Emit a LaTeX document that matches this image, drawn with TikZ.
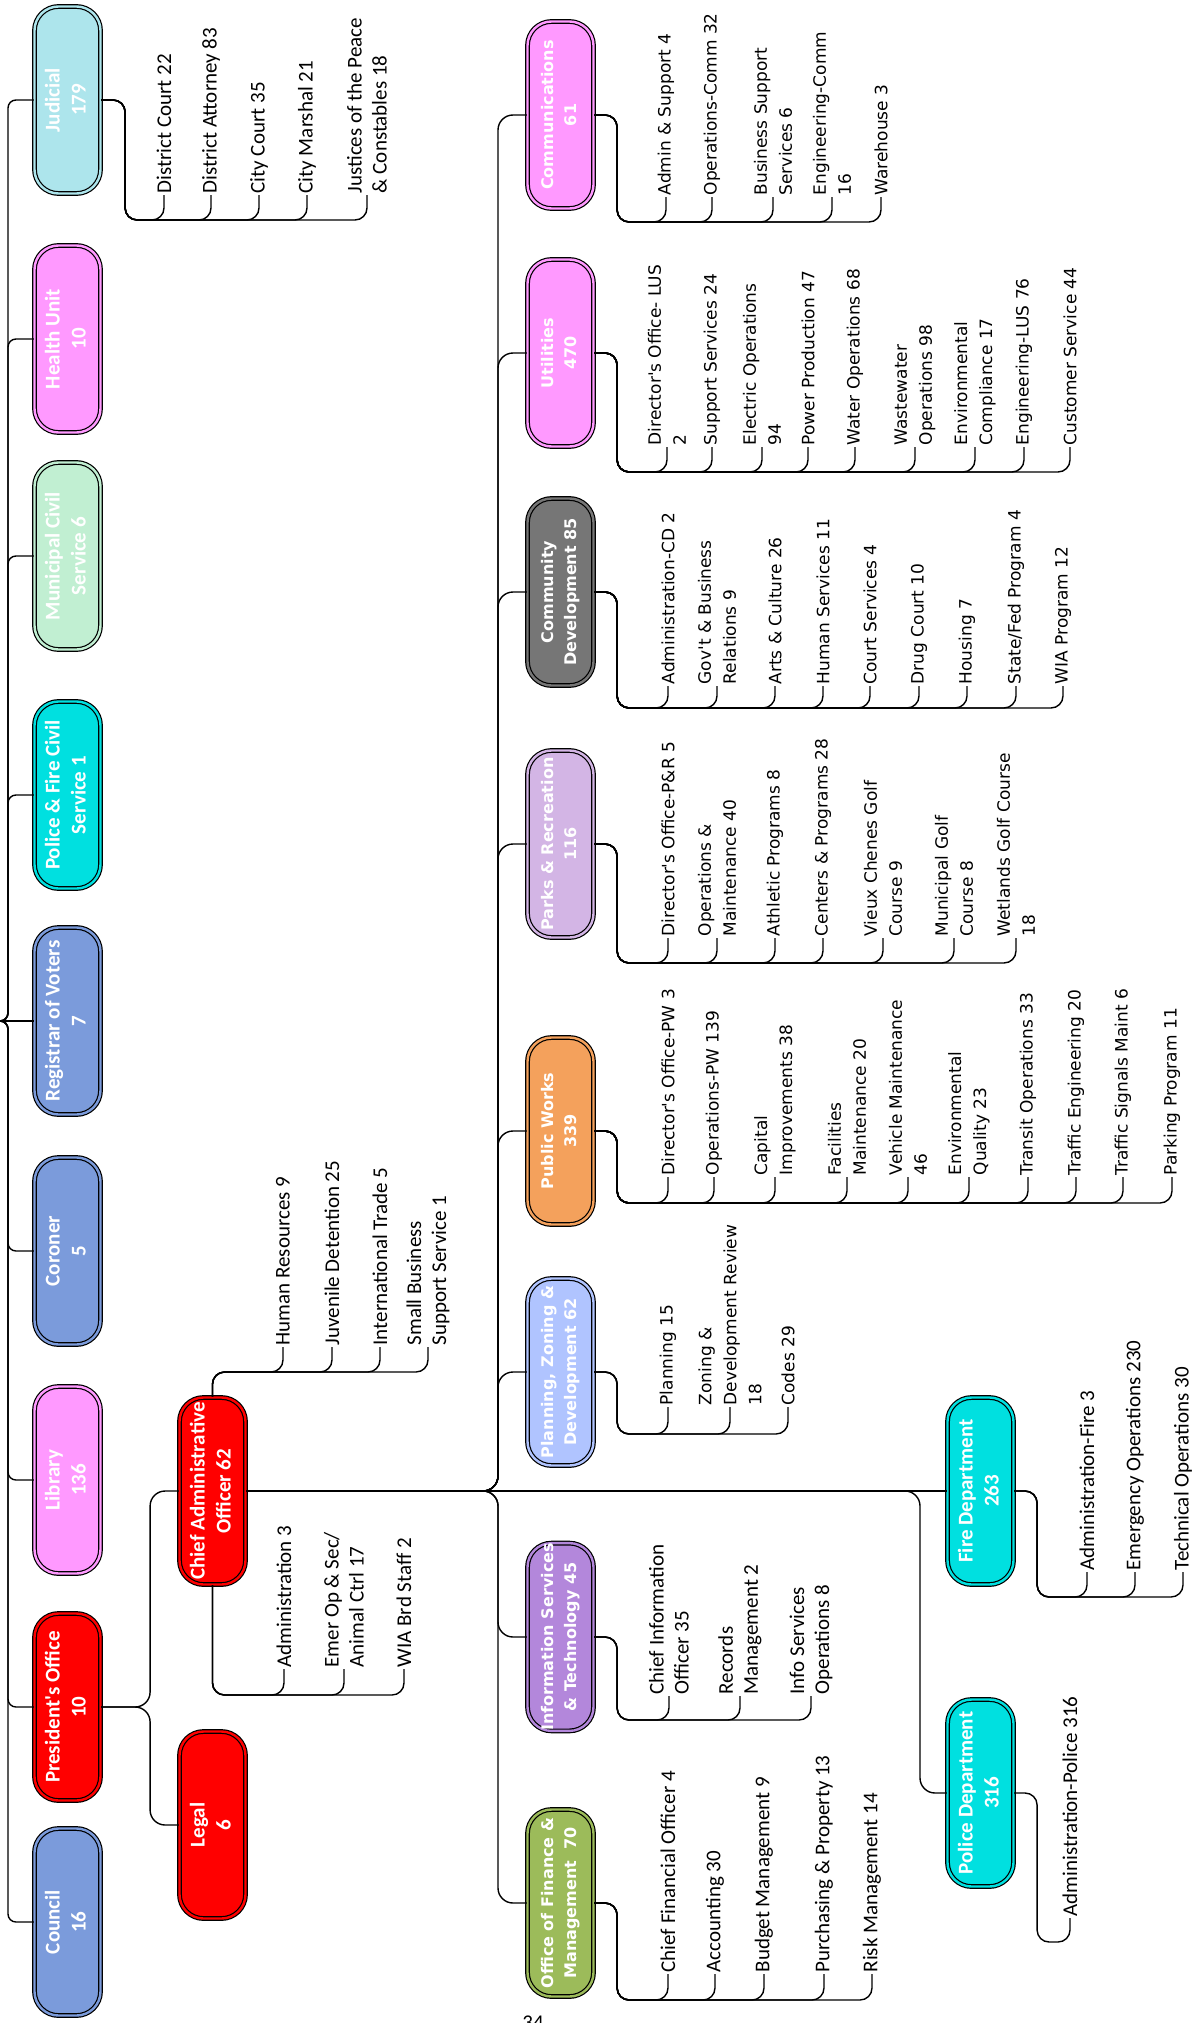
\documentclass[tikz,border=0pt]{standalone}
\usepackage{fontspec}
\usepackage{graphicx}
\newfontfamily\calfont{Carlito}
\newfontfamily\verfont{DejaVu Sans}
\usetikzlibrary{calc}

\definecolor{judcol}{HTML}{ADE5EC}
\definecolor{pinkcol}{HTML}{FF99FF}
\definecolor{mcscol}{HTML}{C1EFD2}
\definecolor{cyancol}{HTML}{00E0E0}
\definecolor{bluecol}{HTML}{7B9BDB}
\definecolor{redcol}{HTML}{FF0000}
\definecolor{graycol}{HTML}{767676}
\definecolor{parkcol}{HTML}{D3B5E5}
\definecolor{pwcol}{HTML}{F4A15C}
\definecolor{plancol}{HTML}{B0C4FF}
\definecolor{infocol}{HTML}{B387DB}
\definecolor{fincol}{HTML}{9CBB5A}

\newcommand{\boxcal}{\calfont\bfseries\fontsize{21}{26}\selectfont}
\newcommand{\boxver}{\verfont\bfseries\fontsize{16}{23}\selectfont}
\newcommand{\leafcal}{\calfont\fontsize{21}{25}\selectfont}
\newcommand{\leafver}{\verfont\fontsize{17}{25}\selectfont}
\newcommand{\vlab}[1]{\rotatebox{90}{\begin{tabular}{@{}c@{}}#1\end{tabular}}}

\tikzset{
  unit/.style={draw=black, line width=1.2pt, double=#1, double distance=2.4pt, fill=#1,
    rounded corners=24pt, minimum width=66pt, minimum height=187pt, inner sep=0pt,
    text=white, font=\boxcal},
  unitv/.style={unit=#1, font=\boxver},
  link/.style={line width=1.4pt, rounded corners=12pt},
  leafc/.style={rotate=90, anchor=west, inner sep=1.5pt, align=left, font=\leafcal},
  leafv/.style={leafc, font=\leafver},
}

\begin{document}
\begin{tikzpicture}[x=1pt, y=-1pt]
	\useasboundingbox (0,0) rectangle (1202,2023);

	% left column
	\node[unit=judcol] (jud) at (67.5,100) {\vlab{Judicial\\179}};
	\node[unit=pinkcol] (hlth) at (67.5,339) {\vlab{Health Unit\\10}};
	\node[unit=mcscol] (mcs) at (67.5,556) {\vlab{Municipal Civil\\Service 6}};
	\node[unit=cyancol] (pfcs) at (67.5,795) {\vlab{Police \& Fire Civil\\Service 1}};
	\node[unit=bluecol] (reg) at (67.5,1021) {\vlab{Registrar of Voters\\7}};
	\node[unit=bluecol] (cor) at (67.5,1251) {\vlab{Coroner\\5}};
	\node[unit=pinkcol] (lib) at (67.5,1480) {\vlab{Library\\136}};
	\node[unit=redcol] (pres) at (67.5,1707) {\vlab{President's Office\\10}};
	\node[unit=bluecol] (cncl) at (67.5,1922) {\vlab{Council\\16}};

	\node[unit=redcol] (cao) at (212.5,1491) {\vlab{Chief Administrative\\Officer 62}};
	\node[unit=redcol] (legal) at (212.5,1825) {\vlab{Legal\\6}};

	% right column
	\node[unitv=pinkcol] (comm) at (560.5,115) {\vlab{Communications\\61}};
	\node[unitv=pinkcol] (util) at (560.5,353) {\vlab{Utilities\\470}};
	\node[unitv=graycol] (cdev) at (560.5,592) {\vlab{Community\\Development 85}};
	\node[unitv=parkcol] (parks) at (560.5,844) {\vlab{Parks \& Recreation\\116}};
	\node[unitv=pwcol] (pw) at (560.5,1131) {\vlab{Public Works\\339}};
	\node[unitv=plancol] (plan) at (560.5,1372) {\vlab{Planning, Zoning \&\\Development 62}};
	\node[unitv=infocol] (info) at (560.5,1637) {\vlab{Information Services\\\& Technology 45}};
	\node[unitv=fincol] (fin) at (560.5,1903) {\vlab{Office of Finance \&\\Management~ 70}};

	\node[unit=cyancol] (fire) at (980.5,1491) {\vlab{Fire Department\\263}};
	\node[unit=cyancol] (police) at (980.5,1793) {\vlab{Police Department\\316}};

	% sections
	\node[leafc] (dc) at (164,195) {District Court 22};
	\node[leafc] (da) at (211,195) {District Attorney 83};
	\node[leafc] (cc) at (259,195) {City Court 35};
	\node[leafc] (cm) at (307,195) {City Marshal 21};
	\node[leafc] (jp) at (367,195) {Justices of the Peace\\\& Constables 18};

	\node[leafc] (hr) at (283,1347) {Human Resources 9};
	\node[leafc] (jd) at (332,1347) {Juvenile Detention 25};
	\node[leafc] (it) at (380,1347) {International Trade 5};
	\node[leafc] (sb) at (428,1347) {Small Business\\Support Service 1};

	\node[leafc] (adm) at (284,1669) {Administration 3};
	\node[leafc] (emer) at (344,1669) {Emer Op \& Sec/\\Animal Ctrl 17};
	\node[leafc] (wia) at (404,1669) {WIA Brd Staff 2};

	\node[leafv] (as) at (666,197) {Admin \& Support 4};
	\node[leafv] (oc) at (712,197) {Operations-Comm 32};
	\node[leafv] (bs) at (773,197) {Business Support\\Services 6};
	\node[leafv] (ec) at (832,197) {Engineering-Comm\\16};
	\node[leafv] (wh) at (881,197) {Warehouse 3};

	\node[leafv] (ud) at (667,447) {Director's Office- LUS\\2};
	\node[leafv] (us) at (712,447) {Support Services 24};
	\node[leafv] (ue) at (762,447) {Electric Operations\\94};
	\node[leafv] (up) at (808,447) {Power Production 47};
	\node[leafv] (uw) at (855,447) {Water Operations 68};
	\node[leafv] (uww) at (915,447) {Wastewater\\Operations 98};
	\node[leafv] (uec) at (975,447) {Environmental\\Compliance 17};
	\node[leafv] (uel) at (1024,447) {Engineering-LUS 76};
	\node[leafv] (ucs) at (1070,447) {Customer Service 44};

	\node[leafv] (ca) at (668,686) {Administration-CD 2};
	\node[leafv] (cg) at (717,686) {Gov't \& Business\\Relations 9};
	\node[leafv] (cac) at (775,686) {Arts \& Culture 26};
	\node[leafv] (chs) at (823,686) {Human Services 11};
	\node[leafv] (ccs) at (870,686) {Court Services 4};
	\node[leafv] (cdc) at (919,686) {Drug Court 10};
	\node[leafv] (chou) at (967,686) {Housing 7};
	\node[leafv] (csf) at (1016,686) {State/Fed Program 4};
	\node[leafv] (cwia) at (1063,686) {WIA Program 12};

	\node[leafv] (pd) at (668,938) {Director's Office-P\&R 5};
	\node[leafv] (po) at (717,938) {Operations \&\\Maintenance 40};
	\node[leafv] (pa) at (775,938) {Athletic Programs 8};
	\node[leafv] (pc) at (823,938) {Centers \& Programs 28};
	\node[leafv] (pv) at (883,938) {Vieux Chenes Golf\\Course 9};
	\node[leafv] (pm) at (954,938) {Municipal Golf\\Course 8};
	\node[leafv] (pwl) at (1016,938) {Wetlands Golf Course\\18};

	\node[leafv] (wd) at (668,1177) {Director's Office-PW 3};
	\node[leafv] (wo) at (714,1177) {Operations-PW 139};
	\node[leafv] (wc) at (775,1177) {Capital\\Improvements 38};
	\node[leafv] (wf) at (847,1177) {Facilities\\Maintenance 20};
	\node[leafv] (wv) at (908,1177) {Vehicle Maintenance\\46};
	\node[leafv] (we) at (969,1177) {Environmental\\Quality 23};
	\node[leafv] (wt) at (1028,1177) {Transit Operations 33};
	\node[leafv] (wte) at (1076,1177) {Traffic Engineering 20};
	\node[leafv] (wts) at (1123,1177) {Traffic Signals Maint 6};
	\node[leafv] (wp) at (1172,1177) {Parking Program 11};

	\node[leafv] (lp) at (668,1407) {Planning 15};
	\node[leafv] (lz) at (730,1407) {Zoning \&\\Development Review\\18};
	\node[leafv] (lc) at (788,1407) {Codes 29};

	\node[leafc] (ic) at (669,1696) {Chief Information\\Officer 35};
	\node[leafc] (ir) at (740,1696) {Records\\Management 2};
	\node[leafc] (is) at (811,1696) {Info Services\\Operations 8};

	\node[leafc] (fc) at (668,1974) {Chief Financial Officer 4};
	\node[leafc] (fa) at (715,1974) {Accounting 30};
	\node[leafc] (fb) at (764,1974) {Budget Management 9};
	\node[leafc] (fp) at (824,1974) {Purchasing \& Property 13};
	\node[leafc] (fr) at (872,1974) {Risk Management 14};

	\node[leafc] (fad) at (1087,1572) {Administration-Fire 3};
	\node[leafc] (fem) at (1135,1572) {Emergency Operations 230};
	\node[leafc] (fte) at (1183,1572) {Technical Operations 30};

	\node[leafc] (pad) at (1070,1918) {Administration-Police 316};

	\node[font=\leafcal, anchor=base] (pgnum) at (533,2029) {34};

	% trunks and buses
	\coordinate (root) at (-2,1021);
	\coordinate (rtrunk) at (498,0);
	\coordinate (ftrunk) at (920,0);
	\coordinate (judbus) at (0,220);
	\coordinate (caotop) at (0,1372);
	\coordinate (caobot) at (0,1695);
	\coordinate (commbus) at (0,222);
	\coordinate (utilbus) at (0,472);
	\coordinate (cdevbus) at (0,708);
	\coordinate (parkbus) at (0,963);
	\coordinate (pwbus) at (0,1203);
	\coordinate (planbus) at (0,1434);
	\coordinate (infobus) at (0,1720);
	\coordinate (finbus) at (0,2000);
	\coordinate (firebus) at (0,1597);
	\coordinate (polbus) at (0,1942);

	\draw[link, rounded corners=8pt] (root) -- ++(10,0) |- (jud.west);
	\draw[link, rounded corners=8pt] (root) -- ++(10,0) |- (hlth.west);
	\draw[link, rounded corners=8pt] (root) -- ++(10,0) |- (mcs.west);
	\draw[link, rounded corners=8pt] (root) -- ++(10,0) |- (pfcs.west);
	\draw[link] (root) -- (reg.west);
	\draw[link, rounded corners=8pt] (root) -- ++(10,0) |- (cor.west);
	\draw[link, rounded corners=8pt] (root) -- ++(10,0) |- (lib.west);
	\draw[link, rounded corners=8pt] (root) -- ++(10,0) |- (pres.west);
	\draw[link, rounded corners=8pt] (root) -- ++(10,0) |- (cncl.west);

	\draw[link, rounded corners=15pt] (pres.east) -- ++(49,0) |- (cao.west);
	\draw[link, rounded corners=15pt] (pres.east) -- ++(49,0) |- (legal.west);

	\draw[link] (cao.east) -- (fire.west);
	\draw[link, rounded corners=15pt] (cao.east) -| (rtrunk |- comm.west) -- (comm.west);
	\draw[link, rounded corners=15pt] (cao.east) -| (rtrunk |- util.west) -- (util.west);
	\draw[link, rounded corners=15pt] (cao.east) -| (rtrunk |- cdev.west) -- (cdev.west);
	\draw[link, rounded corners=15pt] (cao.east) -| (rtrunk |- parks.west) -- (parks.west);
	\draw[link, rounded corners=15pt] (cao.east) -| (rtrunk |- pw.west) -- (pw.west);
	\draw[link, rounded corners=15pt] (cao.east) -| (rtrunk |- plan.west) -- (plan.west);
	\draw[link, rounded corners=15pt] (cao.east) -| (rtrunk |- info.west) -- (info.west);
	\draw[link, rounded corners=15pt] (cao.east) -| (rtrunk |- fin.west) -- (fin.west);
	\draw[link, rounded corners=15pt] (cao.east) -| (ftrunk |- police.west) -- (police.west);

	\draw[link] (jud.east) -- ++(24,0) |- (dc.west |- judbus) -- (dc.west);
	\draw[link] (jud.east) -- ++(24,0) |- (da.west |- judbus) -- (da.west);
	\draw[link] (jud.east) -- ++(24,0) |- (cc.west |- judbus) -- (cc.west);
	\draw[link] (jud.east) -- ++(24,0) |- (cm.west |- judbus) -- (cm.west);
	\draw[link] (jud.east) -- ++(24,0) |- (jp.west |- judbus) -- (jp.west);

	\draw[link] (cao.north) |- (hr.west |- caotop) -- (hr.west);
	\draw[link] (cao.north) |- (jd.west |- caotop) -- (jd.west);
	\draw[link] (cao.north) |- (it.west |- caotop) -- (it.west);
	\draw[link] (cao.north) |- (sb.west |- caotop) -- (sb.west);

	\draw[link] (cao.south) |- (adm.west |- caobot) -- (adm.west);
	\draw[link] (cao.south) |- (emer.west |- caobot) -- (emer.west);
	\draw[link] (cao.south) |- (wia.west |- caobot) -- (wia.west);

	\draw[link] (comm.east) -- ++(23,0) |- (as.west |- commbus) -- (as.west);
	\draw[link] (comm.east) -- ++(23,0) |- (oc.west |- commbus) -- (oc.west);
	\draw[link] (comm.east) -- ++(23,0) |- (bs.west |- commbus) -- (bs.west);
	\draw[link] (comm.east) -- ++(23,0) |- (ec.west |- commbus) -- (ec.west);
	\draw[link] (comm.east) -- ++(23,0) |- (wh.west |- commbus) -- (wh.west);

	\draw[link] (util.east) -- ++(23,0) |- (ud.west |- utilbus) -- (ud.west);
	\draw[link] (util.east) -- ++(23,0) |- (us.west |- utilbus) -- (us.west);
	\draw[link] (util.east) -- ++(23,0) |- (ue.west |- utilbus) -- (ue.west);
	\draw[link] (util.east) -- ++(23,0) |- (up.west |- utilbus) -- (up.west);
	\draw[link] (util.east) -- ++(23,0) |- (uw.west |- utilbus) -- (uw.west);
	\draw[link] (util.east) -- ++(23,0) |- (uww.west |- utilbus) -- (uww.west);
	\draw[link] (util.east) -- ++(23,0) |- (uec.west |- utilbus) -- (uec.west);
	\draw[link] (util.east) -- ++(23,0) |- (uel.west |- utilbus) -- (uel.west);
	\draw[link] (util.east) -- ++(23,0) |- (ucs.west |- utilbus) -- (ucs.west);

	\draw[link] (cdev.east) -- ++(23,0) |- (ca.west |- cdevbus) -- (ca.west);
	\draw[link] (cdev.east) -- ++(23,0) |- (cg.west |- cdevbus) -- (cg.west);
	\draw[link] (cdev.east) -- ++(23,0) |- (cac.west |- cdevbus) -- (cac.west);
	\draw[link] (cdev.east) -- ++(23,0) |- (chs.west |- cdevbus) -- (chs.west);
	\draw[link] (cdev.east) -- ++(23,0) |- (ccs.west |- cdevbus) -- (ccs.west);
	\draw[link] (cdev.east) -- ++(23,0) |- (cdc.west |- cdevbus) -- (cdc.west);
	\draw[link] (cdev.east) -- ++(23,0) |- (chou.west |- cdevbus) -- (chou.west);
	\draw[link] (cdev.east) -- ++(23,0) |- (csf.west |- cdevbus) -- (csf.west);
	\draw[link] (cdev.east) -- ++(23,0) |- (cwia.west |- cdevbus) -- (cwia.west);

	\draw[link] (parks.east) -- ++(23,0) |- (pd.west |- parkbus) -- (pd.west);
	\draw[link] (parks.east) -- ++(23,0) |- (po.west |- parkbus) -- (po.west);
	\draw[link] (parks.east) -- ++(23,0) |- (pa.west |- parkbus) -- (pa.west);
	\draw[link] (parks.east) -- ++(23,0) |- (pc.west |- parkbus) -- (pc.west);
	\draw[link] (parks.east) -- ++(23,0) |- (pv.west |- parkbus) -- (pv.west);
	\draw[link] (parks.east) -- ++(23,0) |- (pm.west |- parkbus) -- (pm.west);
	\draw[link] (parks.east) -- ++(23,0) |- (pwl.west |- parkbus) -- (pwl.west);

	\draw[link] (pw.east) -- ++(23,0) |- (wd.west |- pwbus) -- (wd.west);
	\draw[link] (pw.east) -- ++(23,0) |- (wo.west |- pwbus) -- (wo.west);
	\draw[link] (pw.east) -- ++(23,0) |- (wc.west |- pwbus) -- (wc.west);
	\draw[link] (pw.east) -- ++(23,0) |- (wf.west |- pwbus) -- (wf.west);
	\draw[link] (pw.east) -- ++(23,0) |- (wv.west |- pwbus) -- (wv.west);
	\draw[link] (pw.east) -- ++(23,0) |- (we.west |- pwbus) -- (we.west);
	\draw[link] (pw.east) -- ++(23,0) |- (wt.west |- pwbus) -- (wt.west);
	\draw[link] (pw.east) -- ++(23,0) |- (wte.west |- pwbus) -- (wte.west);
	\draw[link] (pw.east) -- ++(23,0) |- (wts.west |- pwbus) -- (wts.west);
	\draw[link] (pw.east) -- ++(23,0) |- (wp.west |- pwbus) -- (wp.west);

	\draw[link] (plan.east) -- ++(23,0) |- (lp.west |- planbus) -- (lp.west);
	\draw[link] (plan.east) -- ++(23,0) |- (lz.west |- planbus) -- (lz.west);
	\draw[link] (plan.east) -- ++(23,0) |- (lc.west |- planbus) -- (lc.west);

	\draw[link] (info.east) -- ++(23,0) |- (ic.west |- infobus) -- (ic.west);
	\draw[link] (info.east) -- ++(23,0) |- (ir.west |- infobus) -- (ir.west);
	\draw[link] (info.east) -- ++(23,0) |- (is.west |- infobus) -- (is.west);

	\draw[link] (fin.east) -- ++(23,0) |- (fc.west |- finbus) -- (fc.west);
	\draw[link] (fin.east) -- ++(23,0) |- (fa.west |- finbus) -- (fa.west);
	\draw[link] (fin.east) -- ++(23,0) |- (fb.west |- finbus) -- (fb.west);
	\draw[link] (fin.east) -- ++(23,0) |- (fp.west |- finbus) -- (fp.west);
	\draw[link] (fin.east) -- ++(23,0) |- (fr.west |- finbus) -- (fr.west);

	\draw[link] (fire.east) -- ++(23,0) |- (fad.west |- firebus) -- (fad.west);
	\draw[link] (fire.east) -- ++(23,0) |- (fem.west |- firebus) -- (fem.west);
	\draw[link] (fire.east) -- ++(23,0) |- (fte.west |- firebus) -- (fte.west);

	\draw[link] (police.east) -- ++(23,0) |- (pad.west |- polbus) -- (pad.west);
\end{tikzpicture}
\end{document}
